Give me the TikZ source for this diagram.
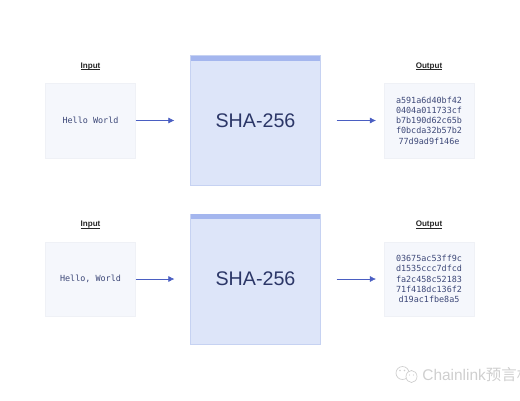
\documentclass[tikz,border=0pt]{standalone}
\usepackage{fontspec}
\setmainfont{Liberation Sans}
\setmonofont{DejaVu Sans Mono}
\newfontfamily\cjkfont{Noto Sans CJK SC}
\usetikzlibrary{arrows.meta, calc}
\definecolor{inkblue}{HTML}{2C3768}
\definecolor{hashtext}{HTML}{3D4878}
\definecolor{arrowblue}{HTML}{4A5EC2}
\definecolor{panelblue}{HTML}{F5F7FC}
\definecolor{hashblue}{HTML}{DDE5F9}
\definecolor{hashedge}{HTML}{C6D2F2}
\definecolor{bandblue}{HTML}{A4B6EE}
\definecolor{markgray}{HTML}{CFCFCF}
\newcommand{\ulabel}[1]{\setbox0\hbox{#1}\rlap{\rule[-0.85pt]{\wd0}{0.35pt}}\box0}

\begin{document}
\begin{tikzpicture}[
  x=0.02cm, y=-0.02cm,
  panel/.style={fill=panelblue, draw=panelblue!95!gray, line width=0.1pt,
                minimum width=1.8cm, minimum height=1.49cm, inner sep=0pt,
                text=hashtext, align=center,
                font=\ttfamily\fontsize{4.8}{5.85}\selectfont},
  hashbox/.style={fill=hashblue, draw=hashedge, line width=0.2pt,
                  minimum size=2.6cm, inner sep=0pt, text=inkblue,
                  font=\fontsize{11.2}{13}\selectfont},
  hashband/.style={fill=bandblue, minimum width=2.6cm, minimum height=0.1cm,
                   inner sep=0pt, anchor=north},
  flow/.style={-{Latex[length=1.2mm, width=1.2mm]}, arrowblue, line width=0.3pt},
  caption/.style={font=\bfseries\fontsize{4.6}{5.5}\selectfont, text=black!85},
]
\useasboundingbox (0,0) rectangle (520,400);
\clip (0,0) rectangle (520,400);

% Top row
\node[caption] (inlabel1) at (90.5, 66.5) {\ulabel{Input}};
\node[panel] (in1) at (90.5, 120.5) {Hello World};
\node[hashbox] (sha1) at (255.5, 120.5) {SHA-256};
\node[hashband] (band1) at (sha1.north) {};
\node[caption] (outlabel1) at (429, 66.5) {\ulabel{Output}};
\node[panel] (out1) at (429, 120.5) {a591a6d40bf42\\0404a011733cf\\b7b190d62c65b\\f0bcda32b57b2\\77d9ad9f146e};
\draw[flow, shorten >=0.32cm] (in1) -- (sha1);
\draw[flow, shorten <=0.32cm, shorten >=0.16cm] (sha1) -- (out1);

% Bottom row
\node[caption] (inlabel2) at (90.5, 225) {\ulabel{Input}};
\node[panel] (in2) at (90.5, 279) {Hello, World};
\node[hashbox] (sha2) at (255.5, 279) {SHA-256};
\node[hashband] (band2) at (sha2.north) {};
\node[caption] (outlabel2) at (429, 225) {\ulabel{Output}};
\node[panel] (out2) at (429, 279) {03675ac53ff9c\\d1535ccc7dfcd\\fa2c458c52183\\71f418dc136f2\\d19ac1fbe8a5};
\draw[flow, shorten >=0.32cm] (in2) -- (sha2);
\draw[flow, shorten <=0.32cm, shorten >=0.16cm] (sha2) -- (out2);

% Watermark
\draw[markgray, line width=0.4pt] (402.5, 373) ellipse (6.5 and 6.5);
\draw[markgray, line width=0.4pt, fill=white] (411.5, 376.5) ellipse (5.5 and 6);
\fill[markgray] (400, 370.5) circle (0.8) (404.5, 370.5) circle (0.8)
                (409.5, 375) circle (0.7) (413.5, 375) circle (0.7);
\node[anchor=west, inner sep=0pt, text=markgray, font=\fontsize{8.8}{10}\selectfont] (mark) at (422, 375) {Chainlink{\cjkfont 预言机}};
\end{tikzpicture}
\end{document}
